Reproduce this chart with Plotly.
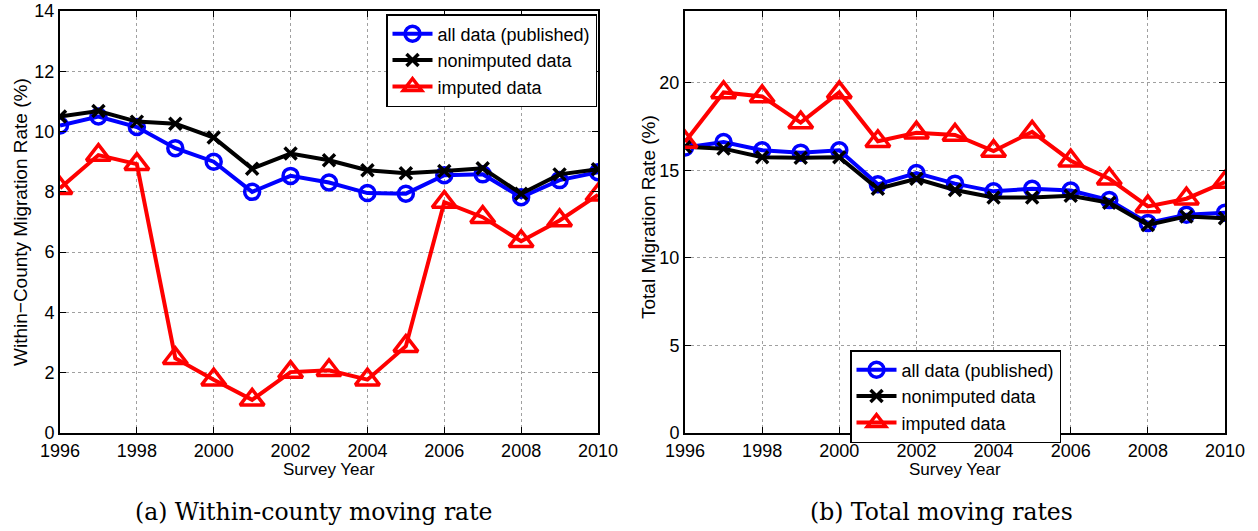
import plotly.graph_objects as go

years = list(range(1996, 2011))

# (a) Within-county moving rate
a_all = [10.2, 10.5, 10.15, 9.45, 9.0, 8.0, 8.53, 8.31, 7.96, 7.94, 8.55, 8.58, 7.82, 8.39, 8.65]
a_nonimp = [10.5, 10.68, 10.33, 10.26, 9.8, 8.77, 9.27, 9.05, 8.72, 8.62, 8.69, 8.78, 7.94, 8.58, 8.75]
a_imp = [8.12, 9.22, 8.92, 2.48, 1.77, 1.1, 2.02, 2.08, 1.77, 2.88, 7.66, 7.16, 6.36, 7.05, 7.9]

# (b) Total moving rates
b_all = [16.3, 16.62, 16.15, 16.01, 16.15, 14.2, 14.85, 14.24, 13.8, 13.95, 13.85, 13.3, 11.99, 12.46, 12.58]
b_nonimp = [16.35, 16.24, 15.75, 15.72, 15.75, 13.95, 14.52, 13.88, 13.45, 13.45, 13.55, 13.15, 11.88, 12.37, 12.27]
b_imp = [16.62, 19.45, 19.22, 17.73, 19.45, 16.66, 17.15, 17.02, 16.1, 17.2, 15.55, 14.52, 12.94, 13.38, 14.33]

series_names = ["all data (published)", "nonimputed data", "imputed data"]
colors = ["#0000ff", "#000000", "#ff0000"]
symbols = ["circle-open", "x-thin-open", "triangle-up-open"]
msizes = [15, 12, 21]

xticks = list(range(1996, 2011, 2))
a_yticks = list(range(0, 15, 2))
b_yticks = [0, 5, 10, 15, 20]

tick_font = dict(family="Liberation Sans, Arial, sans-serif", size=18, color="black")
legend_font = dict(family="Liberation Sans, Arial, sans-serif", size=18, color="black")

fig = go.Figure()

for i, (ys, name) in enumerate(zip([a_all, a_nonimp, a_imp], series_names)):
    fig.add_trace(go.Scatter(
        x=years, y=ys, name=name, mode="lines+markers",
        line=dict(color=colors[i], width=4),
        marker=dict(symbol=symbols[i], size=msizes[i], color=colors[i],
                    line=dict(color=colors[i], width=3.5)),
        xaxis="x", yaxis="y", legend="legend"))

for i, (ys, name) in enumerate(zip([b_all, b_nonimp, b_imp], series_names)):
    fig.add_trace(go.Scatter(
        x=years, y=ys, name=name, mode="lines+markers",
        line=dict(color=colors[i], width=4),
        marker=dict(symbol=symbols[i], size=msizes[i], color=colors[i],
                    line=dict(color=colors[i], width=3.5)),
        xaxis="x2", yaxis="y2", legend="legend2"))

ydom = [(531 - 433) / 531, (531 - 11) / 531]
common_axis = dict(showline=True, linecolor="black", linewidth=2, mirror="ticks",
                   ticks="inside", ticklen=6, tickcolor="black", tickwidth=1,
                   showgrid=True, gridcolor="#a0a0a0", griddash="dot", gridwidth=1,
                   zeroline=False, tickfont=tick_font, automargin=False)

fig.update_layout(
    width=1258, height=531,
    margin=dict(l=0, r=0, t=0, b=0),
    paper_bgcolor="white", plot_bgcolor="white",
    showlegend=True,
    xaxis=dict(domain=[60 / 1258, 598 / 1258], range=[1996, 2010], tickvals=xticks, anchor="y", **common_axis),
    yaxis=dict(domain=ydom, range=[0, 14], tickvals=a_yticks, anchor="x", **common_axis),
    xaxis2=dict(domain=[685 / 1258, 1225 / 1258], range=[1996, 2010], tickvals=xticks, anchor="y2", **common_axis),
    yaxis2=dict(domain=ydom, range=[0, 24.1], tickvals=b_yticks, anchor="x2", **common_axis),
    legend=dict(x=597 / 1258, y=(531 - 14) / 531, xanchor="right", yanchor="top",
                bordercolor="black", borderwidth=1.5, bgcolor="white",
                font=legend_font, tracegroupgap=0, itemwidth=40),
    legend2=dict(x=850 / 1258, y=(531 - 350) / 531, xanchor="left", yanchor="top",
                 bordercolor="black", borderwidth=1.5, bgcolor="white",
                 font=legend_font, tracegroupgap=0, itemwidth=40),
)

ann_font = dict(family="Liberation Sans, Arial, sans-serif", size=17, color="black")
ytitle_font = dict(family="Liberation Sans, Arial, sans-serif", size=19, color="black")
cap_font = dict(family="DejaVu Serif, Liberation Serif, serif", size=23.5, color="black")
annotations = [
    dict(text="Survey Year", x=329 / 1258, y=(531 - 469) / 531, xref="paper", yref="paper",
         showarrow=False, font=ann_font, xanchor="center", yanchor="middle"),
    dict(text="Survey Year", x=955 / 1258, y=(531 - 469) / 531, xref="paper", yref="paper",
         showarrow=False, font=ann_font, xanchor="center", yanchor="middle"),
    dict(text="Within−County Migration Rate (%)", x=20 / 1258, y=(531 - 222) / 531, xref="paper", yref="paper",
         showarrow=False, font=ytitle_font, textangle=-90, xanchor="center", yanchor="middle"),
    dict(text="Total Migration Rate (%)", x=648 / 1258, y=(531 - 217) / 531, xref="paper", yref="paper",
         showarrow=False, font=ytitle_font, textangle=-90, xanchor="center", yanchor="middle"),
    dict(text="(a) Within-county moving rate", x=313 / 1258, y=(531 - 512) / 531, xref="paper", yref="paper",
         showarrow=False, font=cap_font, xanchor="center", yanchor="middle"),
    dict(text="(b) Total moving rates", x=941 / 1258, y=(531 - 512) / 531, xref="paper", yref="paper",
         showarrow=False, font=cap_font, xanchor="center", yanchor="middle"),
]
fig.update_layout(annotations=annotations)

fig.write_html("out.html")
